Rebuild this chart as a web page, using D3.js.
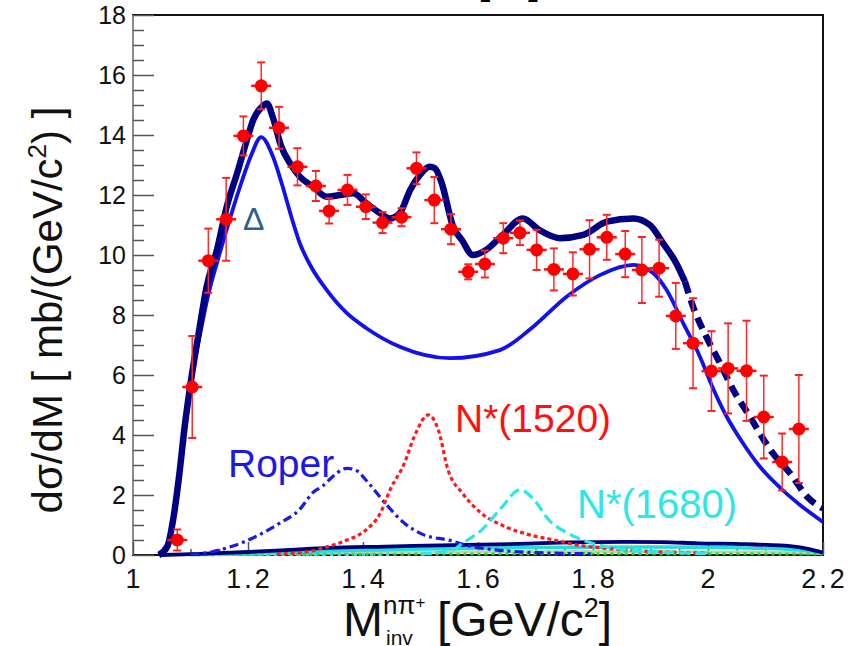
<!DOCTYPE html>
<html>
<head>
<meta charset="utf-8">
<script src="https://cdn.jsdelivr.net/npm/d3@7/dist/d3.min.js"></script>
<style>
  html, body { margin: 0; padding: 0; background: #fff; }
  svg { display: block; font-family: "Liberation Sans", Arial, Helvetica, sans-serif; }
</style>
</head>
<body>
<svg id="chart" width="850" height="646"></svg>
<script>
// ---- data: n pi+ invariant mass spectrum ----
const xTicks = [1, 1.2, 1.4, 1.6, 1.8, 2, 2.2];
const xTickLabels = ["1", "1.2", "1.4", "1.6", "1.8", "2", "2.2"];
const yTicks = [0, 2, 4, 6, 8, 10, 12, 14, 16, 18];
const yTickLabels = ["0", "2", "4", "6", "8", "10", "12", "14", "16", "18"];

// measured points: mass, dsigma/dM, error
const dataMass = [1.077, 1.103, 1.131, 1.162, 1.192, 1.223, 1.254, 1.286, 1.318, 1.341,
  1.373, 1.405, 1.434, 1.467, 1.493, 1.524, 1.553, 1.583, 1.612, 1.644,
  1.673, 1.702, 1.732, 1.765, 1.794, 1.824, 1.856, 1.885, 1.915, 1.944,
  1.974, 2.006, 2.035, 2.067, 2.097, 2.129, 2.158];
const dataValue = [0.5, 5.6, 9.81, 11.19, 13.97, 15.64, 14.24, 12.94, 12.3, 11.47,
  12.17, 11.61, 11.08, 11.26, 12.89, 11.83, 10.86, 9.44, 9.7, 10.56,
  10.74, 10.17, 9.52, 9.37, 10.19, 10.59, 10.03, 9.5, 9.56, 7.97,
  7.06, 6.13, 6.22, 6.14, 4.6, 3.1, 4.2];
const dataError = [0.35, 1.7, 1.07, 1.38, 0.65, 0.78, 0.7, 0.62, 0.5, 0.42,
  0.5, 0.41, 0.35, 0.3, 0.53, 0.77, 0.5, 0.25, 0.45, 0.5,
  0.41, 0.67, 0.7, 0.72, 0.97, 0.75, 0.77, 1.1, 0.95, 1.1,
  1.5, 1.33, 1.5, 1.67, 1.38, 0.95, 1.8];

// full model
const totalCurve = [[1.045, 0], [1.06, 0.3], [1.07, 1.2], [1.08, 2.6], [1.09, 4.3], [1.1, 5.7],
  [1.116, 7.6], [1.128, 8.94], [1.146, 10.17], [1.163, 11.61], [1.181, 12.72], [1.198, 13.83],
  [1.209, 14.5], [1.224, 14.94], [1.233, 15.05], [1.243, 14.6], [1.258, 13.61], [1.273, 13.06],
  [1.29, 12.61], [1.313, 12.28], [1.337, 11.94], [1.36, 12.0], [1.383, 12.06], [1.406, 11.72],
  [1.43, 11.39], [1.447, 11.22], [1.464, 11.39], [1.482, 12.17], [1.499, 12.67], [1.516, 12.94],
  [1.525, 12.89], [1.536, 12.45], [1.557, 10.93], [1.572, 10.5], [1.591, 10.0], [1.614, 10.17],
  [1.643, 10.67], [1.678, 11.22], [1.707, 10.83], [1.742, 10.56], [1.783, 10.67], [1.824, 11.11],
  [1.87, 11.22], [1.899, 11.0], [1.922, 10.39], [1.945, 9.72], [1.96, 9.11], [1.974, 8.28],
  [1.997, 7.28], [2.021, 6.39], [2.044, 5.5], [2.073, 4.61], [2.101, 3.72], [2.112, 3.41],
  [2.143, 2.72], [2.172, 1.95], [2.2, 1.55]];

// Delta(1232) contribution
const deltaCurve = [[1.045, 0], [1.06, 0.3], [1.07, 1.2], [1.08, 2.6], [1.09, 4.3], [1.1, 5.7],
  [1.115, 7.2], [1.13, 8.6], [1.15, 10.0], [1.17, 11.3], [1.19, 12.5], [1.205, 13.3],
  [1.223, 13.93], [1.243, 13.3], [1.26, 12.3], [1.275, 11.3], [1.29, 10.4], [1.31, 9.6],
  [1.337, 8.83], [1.372, 8.06], [1.406, 7.56], [1.464, 6.94], [1.551, 6.56], [1.638, 6.83],
  [1.696, 7.61], [1.754, 8.61], [1.812, 9.33], [1.87, 9.67], [1.905, 9.39], [1.928, 8.83],
  [1.957, 7.72], [1.986, 6.61], [2.01, 5.5], [2.03, 4.7], [2.06, 3.75], [2.09, 2.95],
  [2.125, 2.25], [2.16, 1.67], [2.2, 1.1]];

// N*(1440) Roper
const roperCurve = [[1.1, 0.02], [1.138, 0.11], [1.171, 0.28], [1.213, 0.61], [1.255, 1.06],
  [1.289, 1.5], [1.314, 2.1], [1.33, 2.3], [1.347, 2.61], [1.372, 2.89], [1.39, 2.8],
  [1.405, 2.5], [1.439, 1.72], [1.472, 1.06], [1.506, 0.67], [1.548, 0.5], [1.59, 0.28],
  [1.631, 0.17], [1.7, 0.08], [1.8, 0.04]];

// N*(1520)
const n1520Curve = [[1.25, 0.03], [1.305, 0.11], [1.339, 0.28], [1.372, 0.5], [1.405, 0.83],
  [1.43, 1.39], [1.447, 2.17], [1.472, 3.06], [1.489, 3.94], [1.514, 4.67], [1.531, 4.17],
  [1.548, 2.83], [1.573, 2.06], [1.606, 1.39], [1.648, 0.94], [1.69, 0.67], [1.732, 0.5],
  [1.773, 0.33], [1.823, 0.22], [1.9, 0.12], [2.0, 0.06]];

// N*(1680)
const n1680Curve = [[1.5, 0.03], [1.556, 0.17], [1.573, 0.39], [1.606, 0.83], [1.64, 1.56],
  [1.673, 2.17], [1.698, 1.83], [1.723, 1.17], [1.757, 0.72], [1.799, 0.39], [1.84, 0.22],
  [1.9, 0.11], [2.0, 0.05]];

// small background terms
const bgNavy = [[1.05, 0], [1.1, 0.03], [1.146, 0.06], [1.2, 0.1], [1.272, 0.17], [1.339, 0.24],
  [1.439, 0.28], [1.556, 0.33], [1.673, 0.37], [1.76, 0.42], [1.857, 0.44], [1.92, 0.43],
  [1.983, 0.39], [2.066, 0.36], [2.15, 0.28], [2.19, 0.13], [2.2, 0.08]];
const bgCyan = [[1.1, 0.02], [1.3, 0.12], [1.5, 0.2], [1.7, 0.25], [1.9, 0.27], [2.05, 0.24],
  [2.15, 0.18], [2.2, 0.08]];
const bgGray = [[1.1, 0], [1.3, 0.06], [1.5, 0.1], [1.8, 0.12], [2.1, 0.1], [2.2, 0.05]];
const bgGreen = [[1.1, 0.01], [1.5, 0.03], [1.7, 0.04], [2.0, 0.04], [2.2, 0.03]];
const bgCyanLow = [[1.12, 0.01], [1.3, 0.02], [1.45, 0.02]];

// ---- layout ----
const svg = d3.select("#chart");
const plotL = 133, plotR = 823, plotT = 15, plotB = 555;
const x = d3.scaleLinear().domain([1, 2.2]).range([plotL, plotR]);
const y = d3.scaleLinear().domain([0, 18]).range([plotB, plotT]);

svg.append("defs").append("clipPath").attr("id", "plotClip")
  .append("rect").attr("x", plotL).attr("y", plotT).attr("width", plotR - plotL).attr("height", plotB - plotT + 6);

// title (runs off the top edge)
svg.append("text").attr("x", 479).attr("y", -5).attr("font-size", 34).attr("font-weight", "bold")
  .attr("fill", "#000").style("white-space", "pre").text("[    ]");

// frame
svg.append("rect").attr("x", plotL).attr("y", plotT).attr("width", plotR - plotL).attr("height", plotB - plotT)
  .attr("fill", "none").attr("stroke", "#111").attr("stroke-width", 2);
svg.append("line").attr("x1", plotL).attr("x2", plotL).attr("y1", plotT).attr("y2", plotB)
  .attr("stroke", "#8a8a8a").attr("stroke-width", 2);

// y-axis ticks inside the frame
const yAxis = d3.axisRight(y).tickValues(yTicks).tickSize(21).tickFormat(() => "");
const gy = svg.append("g").attr("transform", `translate(${plotL},0)`).call(yAxis);
gy.select(".domain").remove();
gy.selectAll("line").attr("stroke", "#555").attr("stroke-width", 1.5);
const yMinor = d3.range(0, 18.01, 0.5).filter(v => Math.abs(v / 2 - Math.round(v / 2)) > 1e-6);
const gym = svg.append("g").attr("transform", `translate(${plotL},0)`)
  .call(d3.axisRight(y).tickValues(yMinor).tickSize(11).tickFormat(() => ""));
gym.select(".domain").remove();
gym.selectAll("line").attr("stroke", "#555").attr("stroke-width", 1.5);

svg.append("g").selectAll("text").data(yTicks).join("text")
  .attr("x", 126).attr("y", d => y(d) + 9).attr("text-anchor", "end")
  .attr("font-size", 25).attr("fill", "#111").text((d, i) => yTickLabels[i]);

// x-axis ticks pointing up
const gx = svg.append("g").attr("transform", `translate(0,${plotB})`)
  .call(d3.axisTop(x).tickValues(xTicks).tickSize(13).tickFormat(() => ""));
gx.select(".domain").remove();
gx.selectAll("line").attr("stroke", "#555").attr("stroke-width", 1.5);
const xMinor = d3.range(1, 2.2001, 0.05).filter(v => Math.abs(v * 5 - Math.round(v * 5)) > 1e-6);
const gxm = svg.append("g").attr("transform", `translate(0,${plotB})`)
  .call(d3.axisTop(x).tickValues(xMinor).tickSize(6).tickFormat(() => ""));
gxm.select(".domain").remove();
gxm.selectAll("line").attr("stroke", "#555").attr("stroke-width", 1.5);

svg.append("g").selectAll("text").data(xTicks).join("text")
  .attr("x", d => x(d) + 1.5).attr("y", 588).attr("text-anchor", "middle")
  .attr("font-size", 27).attr("letter-spacing", 3).attr("fill", "#111").text((d, i) => xTickLabels[i]);

// axis titles
const yTitle = svg.append("text").attr("transform", "translate(62,310) rotate(-90)")
  .attr("text-anchor", "middle").attr("font-size", 42).attr("fill", "#111");
yTitle.append("tspan").text("dσ/dM [ mb/(GeV/c");
yTitle.append("tspan").attr("font-size", 26).attr("dy", -16).text("2");
yTitle.append("tspan").attr("dy", 16).text(") ]");

const xTitle = svg.append("text").attr("x", 343).attr("y", 636).attr("font-size", 48).attr("fill", "#111");
xTitle.append("tspan").text("M");
xTitle.append("tspan").attr("font-size", 26).attr("dy", -22).text("nπ");
xTitle.append("tspan").attr("font-size", 17).attr("dy", -6).text("+");
svg.append("text").attr("x", 386).attr("y", 645).attr("font-size", 21).attr("fill", "#111").text("inv");
const xTitle2 = svg.append("text").attr("x", 437).attr("y", 636).attr("font-size", 48).attr("fill", "#111");
xTitle2.append("tspan").text("[GeV/c");
xTitle2.append("tspan").attr("font-size", 27).attr("dy", -19).text("2");
xTitle2.append("tspan").attr("dy", 19).text("]");

// ---- curves ----
const plot = svg.append("g").attr("clip-path", "url(#plotClip)");
const line = d3.line().x(d => x(d[0])).y(d => y(d[1])).curve(d3.curveMonotoneX);

function drawCurve(pts, color, width, dash) {
  plot.append("path").datum(pts).attr("d", line).attr("fill", "none")
    .attr("stroke", color).attr("stroke-width", width)
    .attr("stroke-dasharray", dash || null).attr("stroke-linecap", "butt");
}

drawCurve(bgGray, "#b8d8b0", 3);
drawCurve(bgCyan, "#22dddd", 3.5);
drawCurve(bgGreen, "#22dd22", 3, "3,4");
drawCurve(bgCyanLow, "#22e0e0", 3, "3,5");
drawCurve(bgNavy, "#00007a", 3.8);

drawCurve(roperCurve, "#1a1ae6", 3.2, "9,4,3,4");
drawCurve(n1520Curve, "#ff1a1a", 3.2, "4,3");
drawCurve(n1680Curve, "#2ee6e6", 3.2, "11,5");

drawCurve(deltaCurve, "#1010f0", 3.8);

// total fit: solid up to ~1.95, dashed beyond
const totalSolid = totalCurve.filter(d => d[0] <= 1.96);
const totalDashed = totalCurve.filter(d => d[0] >= 1.96);
drawCurve(totalSolid, "#000080", 6.5);
drawCurve(totalDashed, "#000080", 6.5, "12,7");

// ---- data points with error bars ----
const pts = dataMass.map((m, i) => ({ m, v: dataValue[i], e: dataError[i] }));
const gp = plot.append("g");
gp.selectAll("line.err").data(pts).join("line").attr("class", "err")
  .attr("x1", d => x(d.m)).attr("x2", d => x(d.m))
  .attr("y1", d => y(d.v - d.e)).attr("y2", d => y(d.v + d.e))
  .attr("stroke", "#ff2a2a").attr("stroke-width", 1.5);
gp.selectAll("line.capT").data(pts).join("line").attr("class", "capT")
  .attr("x1", d => x(d.m) - 4).attr("x2", d => x(d.m) + 4)
  .attr("y1", d => y(d.v + d.e)).attr("y2", d => y(d.v + d.e))
  .attr("stroke", "#ff2020").attr("stroke-width", 2);
gp.selectAll("line.capB").data(pts).join("line").attr("class", "capB")
  .attr("x1", d => x(d.m) - 4).attr("x2", d => x(d.m) + 4)
  .attr("y1", d => y(d.v - d.e)).attr("y2", d => y(d.v - d.e))
  .attr("stroke", "#ff2020").attr("stroke-width", 2);
gp.selectAll("line.xerr").data(pts).join("line").attr("class", "xerr")
  .attr("x1", d => x(d.m) - 10).attr("x2", d => x(d.m) + 10)
  .attr("y1", d => y(d.v)).attr("y2", d => y(d.v))
  .attr("stroke", "#ff1010").attr("stroke-width", 2.5);
gp.selectAll("circle").data(pts).join("circle")
  .attr("cx", d => x(d.m)).attr("cy", d => y(d.v)).attr("r", 6.5)
  .attr("fill", "#ff0000");

// ---- component labels ----
svg.append("text").attr("x", 243).attr("y", 230).attr("font-size", 32).attr("fill", "#2c5f8a").text("Δ");
svg.append("text").attr("x", 228).attr("y", 477).attr("font-size", 39).attr("fill", "#1a1ae6").text("Roper");
svg.append("text").attr("x", 455).attr("y", 432).attr("font-size", 39).attr("fill", "#ff1010").text("N*(1520)");
svg.append("text").attr("x", 577).attr("y", 518).attr("font-size", 40).attr("fill", "#2ee6e6").text("N*(1680)");
</script>
</body>
</html>
